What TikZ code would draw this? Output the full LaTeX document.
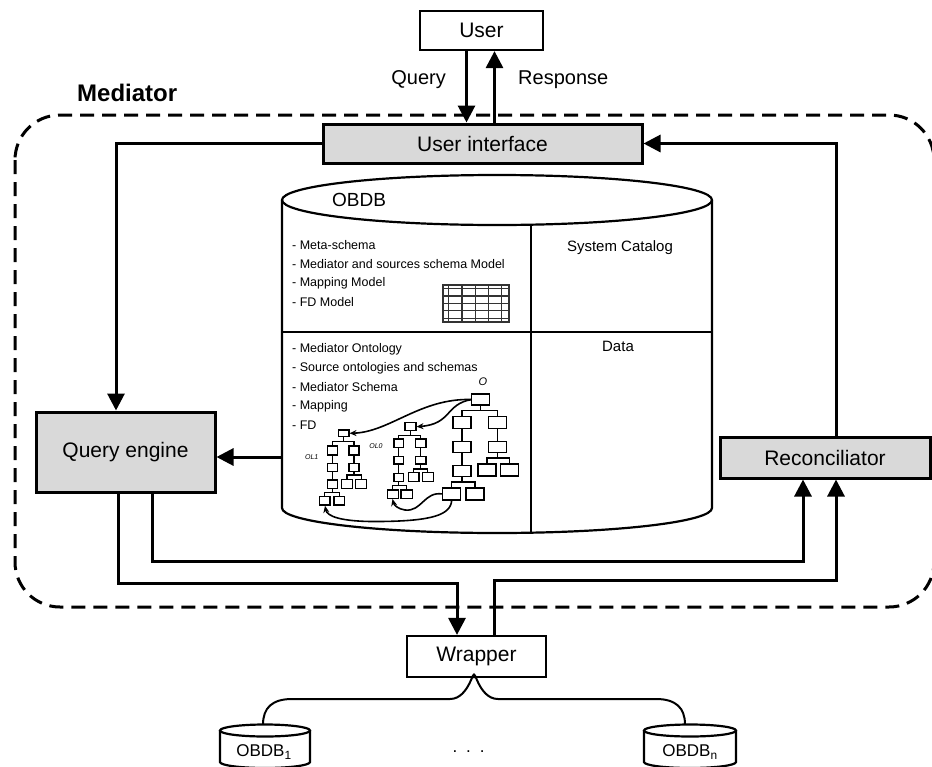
\documentclass[tikz,border=0pt]{standalone}
\usepackage{fontspec}
\setmainfont{Liberation Sans}
\usetikzlibrary{arrows.meta}
\newcommand{\fsz}[1]{\fontsize{#1}{#1}\selectfont}
% small tree box: left x, top y, right x, bottom y
\newcommand{\tbox}[4]{\draw[treeline,fill=white] (#1,#2) rectangle (#3,#4);}
\begin{document}
\begin{tikzpicture}[x=1pt,y=-1pt,
  conn/.style={line width=3pt},
  arr/.style={conn,-{Triangle[length=17pt,width=17pt]}},
  gbox/.style={draw,line width=3pt,fill=black!15,inner sep=0pt},
  wbox/.style={draw,line width=2.2pt,fill=white,inner sep=0pt},
  cyl/.style={line width=2.2pt},
  treeline/.style={line width=1.1pt},
  ontarr/.style={line width=1.6pt,-{Stealth[length=7pt,width=6pt]}},
  listtxt/.style={anchor=west,inner sep=0pt,font=\fsz{12.5}},
  lbl/.style={inner sep=0pt,font=\fsz{20}},
  boxtxt/.style={font=\fsz{21}}
]
\useasboundingbox (0,0) rectangle (932,766);

% ---------- mediator frame ----------
\draw[line width=3pt,dash pattern=on 14pt off 8pt,rounded corners=45pt]
  (15,115) rectangle (934,607);
\node[anchor=west,inner sep=0pt,font=\bfseries\fsz{24}] (medlbl) at (77,93) {Mediator};

% ---------- boxes ----------
\node[wbox,minimum width=123pt,minimum height=39pt,boxtxt] (user) at (481.5,30.5) {User};
\node[gbox,minimum width=319pt,minimum height=39pt,boxtxt] (ui) at (482.5,143.5) {User interface};
\node[gbox,minimum width=179pt,minimum height=80pt,boxtxt] (qe) at (125.5,452) {Query engine};
\node[gbox,minimum width=210pt,minimum height=41pt,boxtxt] (rec) at (825,457.5) {Reconciliator};
\node[wbox,minimum width=139pt,minimum height=41pt,boxtxt] (wr) at (476.5,656.5) {Wrapper};

% ---------- user <-> interface ----------
\draw[arr] ([xshift=-15pt]user.south) -- ([xshift=-15pt]user.south |- ui.north);
\draw[arr] ([xshift=12pt]ui.north) -- ([xshift=12pt]ui.north |- user.south);
\node[lbl,anchor=east] (qlbl) at (446,80) {Query};
\node[lbl,anchor=west] (rlbl) at (518,80) {Response};

% ---------- OBDB cylinder ----------
\draw[cyl] (497,200) ellipse [x radius=215pt, y radius=25pt];
\draw[cyl] (282,200) -- (282,508)
  arc[start angle=180, end angle=360, x radius=215pt, y radius=25pt] -- (712,200);
\draw[line width=2pt] (531,225) -- (531,532.5);
\draw[line width=2pt] (282,332) -- (712,332);
\coordinate (cylL) at (282,457);
\node[anchor=west,inner sep=0pt,font=\fsz{19}] (obdb) at (332,200) {OBDB};

\node[listtxt] at (292,245) {- Meta-schema};
\node[listtxt] at (292,264) {- Mediator and sources schema Model};
\node[listtxt] at (292,283) {- Mapping Model};
\node[listtxt] at (292,302) {- FD Model};
\node[listtxt] at (292,349) {- Mediator Ontology};
\node[listtxt] at (292,368) {- Source ontologies and schemas};
\node[listtxt] at (292,387) {- Mediator Schema};
\node[listtxt] at (292,406) {- Mapping};
\node[listtxt] at (292,425) {- FD};
\node[inner sep=0pt,font=\fsz{15}] (cat) at (620,248) {System Catalog};
\node[inner sep=0pt,font=\fsz{15}] (data) at (618,346) {Data};

% table icon
\draw[line width=1.2pt,black!80] (443,285) grid[xstep=13.2pt,ystep=7.4pt] (509,322);
\draw[line width=1.2pt,black!80] (443,285) rectangle (509,322);

% ---------- ontology trees ----------
% tree O
\draw[treeline] (480.5,405) -- (480.5,410.7) (462,416.7) -- (462,410.7) -- (497.5,410.7) -- (497.5,416.7);
\draw[treeline] (462,428.3) -- (462,441.7) (462,452.7) -- (462,465.7) (462,476.7) -- (462,482)
  (451.7,488) -- (451.7,482) -- (475,482) -- (475,488);
\draw[treeline] (497.5,428.3) -- (497.5,441.7) (497.5,452.7) -- (497.5,458)
  (487,464) -- (487,458) -- (509.5,458) -- (509.5,464);
\tbox{471.7}{394}{489.3}{405}
\tbox{453}{416.7}{471}{428.3}
\tbox{453}{441.7}{471}{452.7}
\tbox{453}{465.7}{471}{476.7}
\tbox{442.7}{488}{460.7}{500}
\tbox{466}{488}{484}{500}
\tbox{488.5}{416.7}{506.5}{428.3}
\tbox{488.5}{441.7}{506.5}{452.7}
\tbox{478}{464}{496}{476}
\tbox{500.7}{464}{518.3}{476}
\node[inner sep=0pt,font=\itshape\fsz{11}] (olbl) at (483,382) {O};

% tree OL0
\draw[treeline] (410.5,430.7) -- (410.5,435.7) (398.7,439) -- (398.7,435.7) -- (420.8,435.7) -- (420.8,439);
\draw[treeline] (398.7,447.3) -- (398.7,456.7) (398.7,464) -- (398.7,473.3) (398.7,481.7) -- (398.7,485.7)
  (392.8,490) -- (392.8,485.7) -- (406.7,485.7) -- (406.7,490);
\draw[treeline] (420.8,447.3) -- (420.8,456.7) (420.8,464) -- (420.8,469)
  (413.7,472.7) -- (413.7,469) -- (427.8,469) -- (427.8,472.7);
\tbox{405}{422.7}{416}{430.7}
\tbox{394}{439}{403.3}{447.3}
\tbox{394}{456.7}{403.3}{464}
\tbox{394}{473.3}{403.3}{481.7}
\tbox{387.3}{490}{398.3}{498.3}
\tbox{401}{490}{412.3}{498.3}
\tbox{415.7}{439}{426}{447.3}
\tbox{415.7}{456.7}{426}{464}
\tbox{408.3}{472.7}{419}{481.7}
\tbox{422.3}{472.7}{433.3}{481.7}
\node[inner sep=0pt,font=\itshape\fsz{7}] (ol0lbl) at (376,446) {OL0};

% tree OL1
\draw[treeline] (343.7,436.7) -- (343.7,441.7) (332.3,446) -- (332.3,441.7) -- (354,441.7) -- (354,446);
\draw[treeline] (332.3,455) -- (332.3,463.3) (332.3,471.7) -- (332.3,480) (332.3,488.3) -- (332.3,492.3)
  (324.7,496.7) -- (324.7,492.3) -- (339.2,492.3) -- (339.2,496.7);
\draw[treeline] (354,455) -- (354,463.3) (354,471.7) -- (354,475)
  (347,479.3) -- (347,475) -- (361.2,475) -- (361.2,479.3);
\tbox{338.3}{430}{349}{436.7}
\tbox{327.3}{446}{337.3}{455}
\tbox{327.3}{463.3}{337.3}{471.7}
\tbox{327.3}{480}{337.3}{488.3}
\tbox{319.3}{496.7}{330}{505}
\tbox{334}{496.7}{344.3}{505}
\tbox{349}{446}{359}{455}
\tbox{349}{463.3}{359}{471.7}
\tbox{341.7}{479.3}{352.3}{488.3}
\tbox{355.7}{479.3}{366.7}{488.3}
\node[inner sep=0pt,font=\itshape\fsz{7}] (ol1lbl) at (311.7,456.7) {OL1};

% mappings between the ontologies
\draw[ontarr] (471.7,399.5) .. controls (420,398) and (390,432) .. (349.5,433.3);
\draw[ontarr] (471.7,399.5) .. controls (445,404) and (452,424) .. (416.5,426.7);
\draw[ontarr] (442.7,494) .. controls (424,491) and (422,512) .. (405,510)
  .. controls (398,509) and (394,505) .. (392.5,499);
\draw[ontarr] (451.7,500) .. controls (451,515) and (432,521) .. (380,521.5)
  .. controls (340,522) and (327,516) .. (325,505.8);

% ---------- connectors ----------
\draw[arr] (ui.west) -| ([xshift=-9.5pt]qe.north);
\draw[arr] ([xshift=11pt]rec.north) |- (ui.east);
\draw[arr] (cylL) -- (qe.east |- cylL);
\draw[arr] ([xshift=26.5pt]qe.south) -- ++(0,68) -| ([xshift=-22pt]rec.south);
\draw[arr] ([xshift=-7.5pt]qe.south) -- ++(0,90) -| ([xshift=-19.5pt]wr.north);
\draw[arr] ([xshift=17.5pt]wr.north) -- ++(0,-54) -| ([xshift=11pt]rec.south);

% ---------- sources ----------
\coordinate (tip) at ([xshift=-2.5pt]wr.south);
\coordinate (db1top) at (263,724.5);
\coordinate (dbntop) at (685,724.5);
\draw[line width=2pt] (tip) .. controls ([yshift=14pt]tip) and (470,699) .. (450,699) -- (292,699)
  .. controls (272,699) and (263,708) .. (db1top);
\draw[line width=2pt] (tip) .. controls ([yshift=14pt]tip) and (478,699) .. (498,699) -- (656,699)
  .. controls (676,699) and (685,708) .. (dbntop);

\draw[cyl] (265,730.5) ellipse [x radius=45pt, y radius=6pt];
\draw[cyl] (220,730.5) -- (220,762) arc[start angle=180, end angle=360, x radius=45pt, y radius=6pt] -- (310,730.5);
\draw[cyl] (690,730.5) ellipse [x radius=46pt, y radius=6pt];
\draw[cyl] (644,730.5) -- (644,762) arc[start angle=180, end angle=360, x radius=46pt, y radius=6pt] -- (736,730.5);
\node[inner sep=0pt,font=\fsz{17}] (db1) at (264,752) {OBDB\textsubscript{1}};
\node[inner sep=0pt,font=\fsz{17}] (dbn) at (690,752) {OBDB\textsubscript{n}};
\node[inner sep=0pt,font=\fsz{17}] (dots) at (468.6,752) {.\hspace{9pt}.\hspace{9pt}.};
\end{tikzpicture}
\end{document}
